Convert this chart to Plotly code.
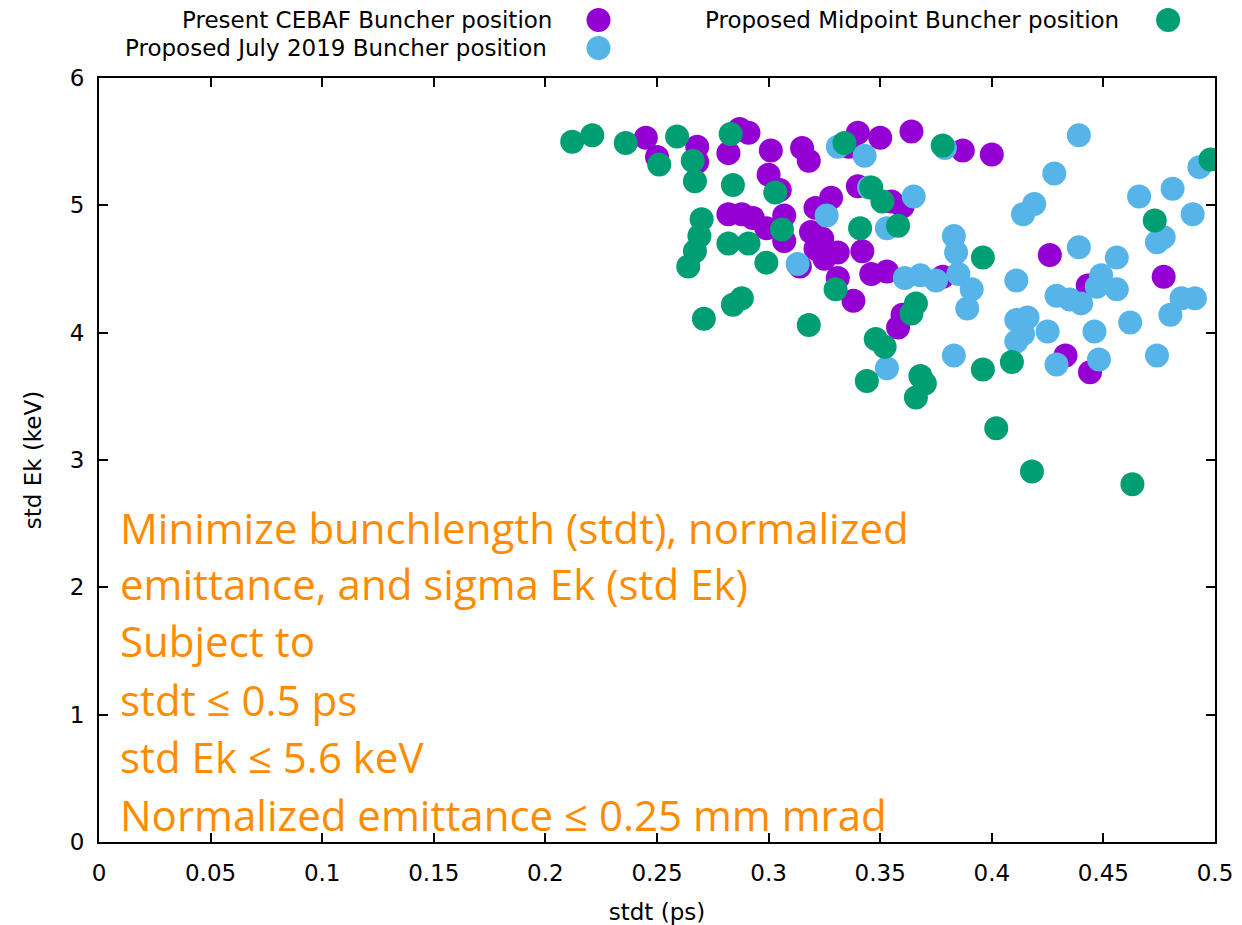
import plotly.graph_objects as go

# ---- data ----
present_x = [0.245, 0.250, 0.268, 0.268, 0.287, 0.291, 0.282, 0.301, 0.300, 0.305, 0.315, 0.318,
             0.340, 0.336, 0.350, 0.364, 0.387, 0.400, 0.340, 0.328, 0.321, 0.307, 0.282, 0.288,
             0.293, 0.299, 0.307, 0.319, 0.324, 0.321, 0.331, 0.342, 0.314, 0.331, 0.346, 0.353,
             0.338, 0.355, 0.360, 0.360, 0.358, 0.378, 0.426, 0.433, 0.444, 0.443, 0.477, 0.325]
present_y = [5.53, 5.38, 5.46, 5.34, 5.60, 5.57, 5.41, 5.43, 5.24, 5.12, 5.45, 5.35,
             5.57, 5.46, 5.53, 5.58, 5.43, 5.40, 5.15, 5.06, 4.98, 4.92, 4.93, 4.93,
             4.90, 4.82, 4.72, 4.79, 4.74, 4.66, 4.63, 4.64, 4.52, 4.43, 4.46, 4.48,
             4.25, 5.03, 4.99, 4.14, 4.04, 4.44, 4.61, 3.82, 3.69, 4.37, 4.44, 4.58]

july_x = [0.331, 0.343, 0.379, 0.439, 0.345, 0.365, 0.326, 0.353, 0.313, 0.428, 0.419, 0.414,
          0.466, 0.481, 0.493, 0.477, 0.474, 0.490, 0.383, 0.384, 0.439, 0.456, 0.456, 0.449,
          0.447, 0.440, 0.435, 0.429, 0.411, 0.361, 0.368, 0.375, 0.385, 0.391, 0.389, 0.411,
          0.416, 0.414, 0.411, 0.425, 0.446, 0.462, 0.480, 0.485, 0.491, 0.448, 0.474, 0.383,
          0.353, 0.429]
july_y = [5.46, 5.39, 5.45, 5.55, 5.14, 5.07, 4.92, 4.82, 4.54, 5.25, 5.01, 4.93,
          5.07, 5.13, 5.30, 4.75, 4.71, 4.93, 4.76, 4.63, 4.67, 4.59, 4.34, 4.45,
          4.36, 4.23, 4.26, 4.29, 4.41, 4.43, 4.45, 4.41, 4.46, 4.34, 4.19, 4.10,
          4.12, 3.99, 3.93, 4.01, 4.01, 4.08, 4.14, 4.27, 4.27, 3.79, 3.82, 3.82,
          3.72, 3.75]

mid_x = [0.212, 0.221, 0.236, 0.259, 0.283, 0.251, 0.266, 0.267, 0.284, 0.270, 0.269, 0.267,
         0.264, 0.282, 0.291, 0.299, 0.271, 0.288, 0.284, 0.318, 0.334, 0.378, 0.303, 0.306,
         0.341, 0.346, 0.351, 0.358, 0.330, 0.348, 0.352, 0.344, 0.366, 0.364, 0.368, 0.370,
         0.366, 0.396, 0.396, 0.409, 0.402, 0.418, 0.463, 0.473, 0.498]
mid_y = [5.50, 5.55, 5.49, 5.54, 5.56, 5.32, 5.35, 5.19, 5.16, 4.89, 4.76, 4.64,
         4.52, 4.70, 4.70, 4.55, 4.11, 4.27, 4.22, 4.06, 5.49, 5.47, 5.10, 4.81,
         4.82, 5.14, 5.03, 4.84, 4.34, 3.95, 3.89, 3.62, 4.23, 4.15, 3.66, 3.60,
         3.49, 4.59, 3.71, 3.77, 3.25, 2.91, 2.81, 4.88, 5.36]

series_names = ["Present CEBAF Buncher position",
                "Proposed July 2019 Buncher position",
                "Proposed Midpoint Buncher position"]
colors = ["#9400D3", "#56B4E9", "#009E73"]

x_ticks = [0, 0.05, 0.1, 0.15, 0.2, 0.25, 0.3, 0.35, 0.4, 0.45, 0.5]
x_tick_labels = ["0", "0.05", "0.1", "0.15", "0.2", "0.25", "0.3", "0.35", "0.4", "0.45", "0.5"]
y_ticks = [0, 1, 2, 3, 4, 5, 6]

note_lines = ["Minimize bunchlength (stdt), normalized",
              "emittance, and sigma Ek (std Ek)",
              "Subject to",
              "stdt \u2264 0.5 ps",
              "std Ek \u2264 5.6 keV",
              "Normalized emittance \u2264 0.25 mm mrad"]

FONT = "DejaVu Sans"
NOTE_FONT = "Open Sans"
FS = 23

fig = go.Figure()
for xs, ys, name, c in [(present_x, present_y, series_names[0], colors[0]),
                        (july_x, july_y, series_names[1], colors[1]),
                        (mid_x, mid_y, series_names[2], colors[2])]:
    fig.add_trace(go.Scatter(x=xs, y=ys, mode="markers", name=name,
                             marker=dict(size=24, color=c, line=dict(width=0)),
                             showlegend=False, cliponaxis=True))

axis_common = dict(showgrid=False, zeroline=False, showline=True, linecolor="black",
                   linewidth=2, mirror="allticks", ticks="inside", ticklen=9,
                   tickwidth=2, tickcolor="black", automargin=False,
                   tickfont=dict(family=FONT, size=FS, color="black"))

fig.update_xaxes(range=[0, 0.5], tickvals=x_ticks, ticktext=x_tick_labels,
                 ticklabelstandoff=9,
                 title=dict(text="stdt (ps)", font=dict(family=FONT, size=FS, color="black"),
                            standoff=19), **axis_common)
fig.update_yaxes(range=[0, 6], tickvals=y_ticks, ticklabelstandoff=8,
                 title=dict(text="std Ek (keV)", font=dict(family=FONT, size=FS, color="black"),
                            standoff=22), **axis_common)

annotations = []
shapes = []
# key (gnuplot-like: text right-aligned, symbol to the right)
key_items = [(0.4073, 1.0759, 0.4476, 0), (0.4028, 1.0393, 0.4476, 1), (0.9158, 1.0759, 0.958, 2)]
for tx, ty, mx, i in key_items:
    annotations.append(dict(x=tx, y=ty, xref="paper", yref="paper", text=series_names[i],
                            showarrow=False, xanchor="right", yanchor="middle",
                            font=dict(family=FONT, size=FS, color="black")))
    shapes.append(dict(type="circle", xref="paper", yref="paper",
                       xsizemode="pixel", ysizemode="pixel", xanchor=mx, yanchor=ty,
                       x0=-12, x1=12, y0=-12, y1=12,
                       fillcolor=colors[i], line=dict(width=0)))

note_y = [0.4123, 0.3377, 0.2631, 0.1859, 0.1113, 0.0366]
for line, yy in zip(note_lines, note_y):
    annotations.append(dict(x=0.0172, y=yy, xref="paper", yref="paper", text=line,
                            showarrow=False, xanchor="left", yanchor="middle",
                            font=dict(family=NOTE_FONT, size=42, color="#FF8C00")))

# page body adds an 8 px offset, so the figure is 8 px smaller than the window
fig.update_layout(width=1234, height=917, paper_bgcolor="white", plot_bgcolor="white",
                  margin=dict(l=91, r=27, t=70, b=83),
                  annotations=annotations, shapes=shapes, showlegend=False)

fig.write_html("out.html")
